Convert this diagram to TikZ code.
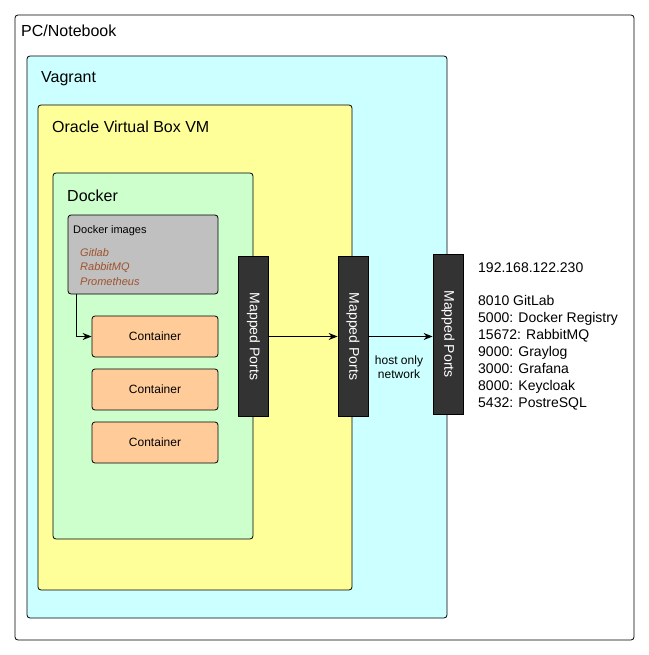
\documentclass[tikz,border=0pt]{standalone}
\usepackage{fontspec}
\setmainfont{Liberation Sans}
\usepackage{tikz}
\usetikzlibrary{arrows.meta, positioning}
\definecolor{vagrantcyan}{HTML}{CCFFFF}
\definecolor{vmyellow}{HTML}{FFFF99}
\definecolor{dockergreen}{HTML}{CCFFCC}
\definecolor{imagegray}{HTML}{C0C0C0}
\definecolor{containerorange}{HTML}{FFCC99}
\definecolor{portgray}{HTML}{333333}
\definecolor{imagebrown}{HTML}{A0522D}

\begin{document}
\begin{tikzpicture}[x=1pt, y=-1pt,
  frame/.style={draw, rounded corners=3pt, line width=0.8pt},
  title/.style={anchor=base west, inner sep=0pt, font=\fontsize{16}{19}\selectfont},
  label/.style={anchor=base west, inner sep=0pt, font=\fontsize{14}{17}\selectfont},
  small/.style={anchor=base west, inner sep=0pt, font=\fontsize{11}{13}\selectfont},
  imagename/.style={small, text=imagebrown, font=\fontsize{11}{13}\selectfont\itshape},
  ports/.style={draw, line width=0.8pt, fill=portgray, text=white, rotate=-90, minimum width=160pt, minimum height=30pt, inner sep=0pt, font=\fontsize{14}{17}\selectfont},
  container/.style={frame, fill=containerorange, minimum width=126pt, minimum height=41pt, inner sep=0pt, font=\fontsize{12}{14}\selectfont},
  arrow/.style={-{Stealth[length=9pt,width=7pt]}, line width=0.8pt}]
\useasboundingbox (0,0) rectangle (648,655);
\fill[white] (0,0) rectangle (648,655);
\draw[frame, fill=white] (15,15) rectangle (634,640);
\node[title] (pc) at (21,37) {PC/Notebook};
\draw[frame, fill=vagrantcyan] (27,56) rectangle (447,618);
\node[title] (vagrant) at (41,83) {Vagrant};
\draw[frame, fill=vmyellow] (38,105) rectangle (352,590);
\node[title] (vm) at (52,133) {Oracle Virtual Box VM};
\draw[frame, fill=dockergreen] (53,173) rectangle (253,539);
\node[title] (docker) at (67,201) {Docker};
\node[frame, fill=imagegray, minimum width=150pt, minimum height=79pt] (images) at (143,254.5) {};
\node[small] (imagestitle) at (73,233) {Docker images};
\node[imagename] (gitlab) at (80,256) {Gitlab};
\node[imagename] (rabbit) at (80,270.5) {RabbitMQ};
\node[imagename] (prom) at (80,285) {Prometheus};
\node[container] (cont1) at (155,336.5) {Container};
\node[container] (cont2) at (155,389.5) {Container};
\node[container] (cont3) at (155,442.5) {Container};
\draw[arrow] ([xshift=9pt]images.south west) |- (cont1.west);
\node[ports] (ports1) at (253.5,336.5) {Mapped Ports};
\node[ports] (ports2) at (353,336.5) {Mapped Ports};
\node[ports] (ports3) at (448,334) {Mapped Ports};
\draw[arrow] (ports1.north) -- (ports2.south);
\draw[arrow] (ports2.north) -- (ports2.north -| ports3.south);
\node[align=center, inner sep=0pt, font=\fontsize{12}{14.5}\selectfont] (hostonly) at (399,367) {host only\\network};
\node[label] (ip) at (478,272) {192.168.122.230};
\node[label] (gitlabport) at (478,305.5) {8010 GitLab};
\node[label] (registryport) at (478,322.5) {5000: Docker Registry};
\node[label] (rabbitport) at (478,339.5) {15672: RabbitMQ};
\node[label] (graylogport) at (478,356.5) {9000: Graylog};
\node[label] (grafanaport) at (478,373.5) {3000: Grafana};
\node[label] (keycloakport) at (478,390.5) {8000: Keycloak};
\node[label] (postgresport) at (478,407.5) {5432: PostreSQL};
\end{tikzpicture}
\end{document}
